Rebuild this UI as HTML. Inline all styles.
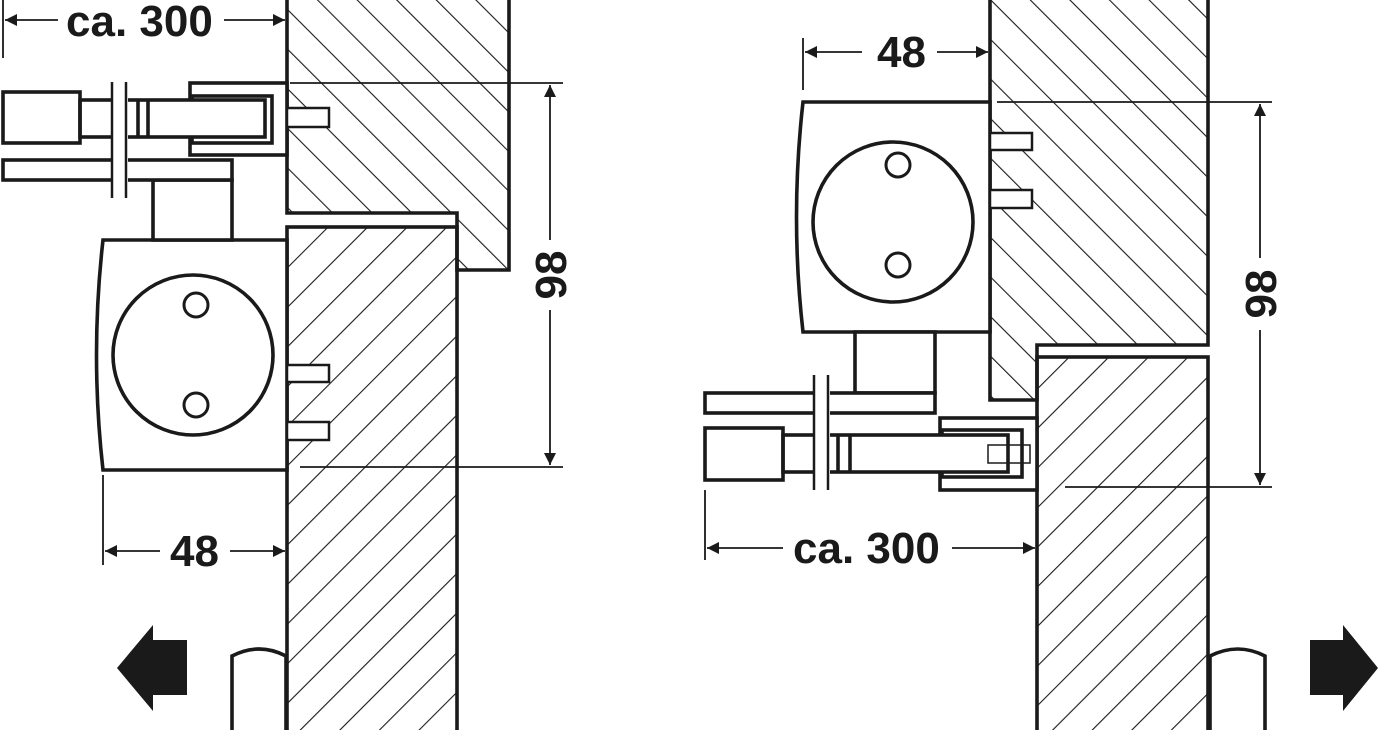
<!DOCTYPE html>
<html><head><meta charset="utf-8"><style>
html,body{margin:0;padding:0;background:#fff;}
svg{display:block}
text{font-family:"Liberation Sans",sans-serif;font-weight:bold;font-size:44px;fill:#1a1a1a}
</style></head><body>
<svg width="1383" height="730" viewBox="0 0 1383 730" xmlns="http://www.w3.org/2000/svg">
<defs>
<pattern id="hb" patternUnits="userSpaceOnUse" width="28" height="28" patternTransform="rotate(45)">
<line x1="0" y1="0" x2="0" y2="28" stroke="#1a1a1a" stroke-width="2.2"/></pattern>
<pattern id="hf" patternUnits="userSpaceOnUse" width="28" height="28" patternTransform="rotate(-45)">
<line x1="0" y1="0" x2="0" y2="28" stroke="#1a1a1a" stroke-width="2.2"/></pattern>
<marker id="ar" viewBox="0 0 10 10" refX="10" refY="5" markerWidth="22" markerHeight="12" orient="auto-start-reverse" markerUnits="userSpaceOnUse">
<path d="M0,0 L10,5 L0,10z" fill="#1a1a1a"/></marker>
</defs>
<g fill="none" stroke="#1a1a1a" stroke-width="3.6">
<path d="M287,-5 V213 H457 V270 H509 V-5" fill="url(#hf)"/>
<rect x="287" y="227" width="170" height="510" fill="url(#hb)"/>
<path d="M103,240 H287 V470 H103 Q90,355 103,240z" fill="#fff"/>
<circle cx="193" cy="355" r="80"/>
<circle cx="196" cy="305" r="12" stroke-width="3"/>
<circle cx="196" cy="405" r="12" stroke-width="3"/>
<rect x="153" y="180" width="79" height="60" fill="#fff"/>
<rect x="3" y="160" width="229" height="20" fill="#fff"/>
<rect x="3" y="92" width="77" height="51" fill="#fff"/>
<rect x="80" y="100" width="35" height="37"/>
<rect x="190" y="83" width="97" height="72" fill="#fff"/>
<rect x="192" y="96" width="80" height="47" fill="#fff"/>
<rect x="125" y="100" width="140" height="37" fill="#fff"/>
<line x1="138" y1="100" x2="138" y2="137"/><line x1="148" y1="100" x2="148" y2="137"/>
<rect x="287" y="108" width="42" height="19" fill="#fff" stroke-width="2.5"/>
<rect x="287" y="365" width="42" height="17" fill="#fff" stroke-width="2.5"/>
<rect x="287" y="422" width="42" height="18" fill="#fff" stroke-width="2.5"/>
<rect x="113" y="85" width="15" height="120" fill="#fff" stroke="none"/>
<line x1="112" y1="82" x2="112" y2="198" stroke-width="2.5"/><line x1="126" y1="82" x2="126" y2="198" stroke-width="2.5"/>
<path d="M232,735 V656 Q259,642 286,656 V735" fill="#fff"/>
<path d="M990,-5 V400 H1037 V345 H1208 V-5" fill="url(#hf)"/>
<rect x="1037" y="357" width="171" height="380" fill="url(#hb)"/>
<path d="M803,102 H990 V332 H803 Q790,217 803,102z" fill="#fff"/>
<circle cx="893" cy="222" r="80"/>
<circle cx="898" cy="165" r="12" stroke-width="3"/>
<circle cx="898" cy="265" r="12" stroke-width="3"/>
<rect x="855" y="332" width="80" height="61" fill="#fff"/>
<rect x="705" y="393" width="230" height="20" fill="#fff"/>
<rect x="940" y="418" width="97" height="72" fill="#fff"/>
<rect x="942" y="430" width="80" height="47" fill="#fff"/>
<rect x="705" y="428" width="78" height="52" fill="#fff"/>
<rect x="783" y="435" width="35" height="37"/>
<rect x="828" y="435" width="180" height="37" fill="#fff"/>
<line x1="838" y1="435" x2="838" y2="472"/><line x1="850" y1="435" x2="850" y2="472"/>
<rect x="988" y="445" width="42" height="18" stroke-width="1.5"/>
<rect x="990" y="133" width="42" height="17" fill="#fff" stroke-width="2.5"/>
<rect x="990" y="190" width="42" height="18" fill="#fff" stroke-width="2.5"/>
<rect x="815" y="380" width="15" height="110" fill="#fff" stroke="none"/>
<line x1="814" y1="375" x2="814" y2="490" stroke-width="2.5"/><line x1="828" y1="375" x2="828" y2="490" stroke-width="2.5"/>
<path d="M1210,735 V656 Q1238,642 1265,656 V735" fill="#fff"/>
</g>
<g stroke="#1a1a1a" stroke-width="1.8" fill="none">
<line x1="3" y1="0" x2="3" y2="58"/><line x1="287" y1="0" x2="287" y2="40"/>
<line x1="5" y1="20" x2="58" y2="20" marker-start="url(#ar)"/><line x1="224" y1="20" x2="285" y2="20" marker-end="url(#ar)"/>
<line x1="290" y1="83" x2="563" y2="83"/><line x1="300" y1="467" x2="563" y2="467"/>
<line x1="550" y1="85" x2="550" y2="240" marker-start="url(#ar)"/><line x1="550" y1="310" x2="550" y2="465" marker-end="url(#ar)"/>
<line x1="103" y1="475" x2="103" y2="565"/>
<line x1="105" y1="551" x2="160" y2="551" marker-start="url(#ar)"/><line x1="230" y1="551" x2="285" y2="551" marker-end="url(#ar)"/>
<line x1="803" y1="38" x2="803" y2="90"/>
<line x1="805" y1="52" x2="862" y2="52" marker-start="url(#ar)"/><line x1="937" y1="52" x2="988" y2="52" marker-end="url(#ar)"/>
<line x1="997" y1="102" x2="1272" y2="102"/><line x1="1065" y1="487" x2="1272" y2="487"/>
<line x1="1260" y1="104" x2="1260" y2="258" marker-start="url(#ar)"/><line x1="1260" y1="330" x2="1260" y2="485" marker-end="url(#ar)"/>
<line x1="705" y1="490" x2="705" y2="560"/>
<line x1="707" y1="548" x2="783" y2="548" marker-start="url(#ar)"/><line x1="952" y1="548" x2="1035" y2="548" marker-end="url(#ar)"/>
</g>
<text x="66" y="36">ca. 300</text>
<text x="170" y="566">48</text>
<text x="877" y="67">48</text>
<text x="793" y="563">ca. 300</text>
<text transform="translate(566,275) rotate(-90)" text-anchor="middle">98</text>
<text transform="translate(1276,294) rotate(-90)" text-anchor="middle">98</text>
<path d="M117,668 L153,625 V640 H187 V695 H153 V711z" fill="#1a1a1a"/>
<path d="M1378,668 L1343,625 V640 H1310 V695 H1343 V711z" fill="#1a1a1a"/>
</svg>
</body></html>
